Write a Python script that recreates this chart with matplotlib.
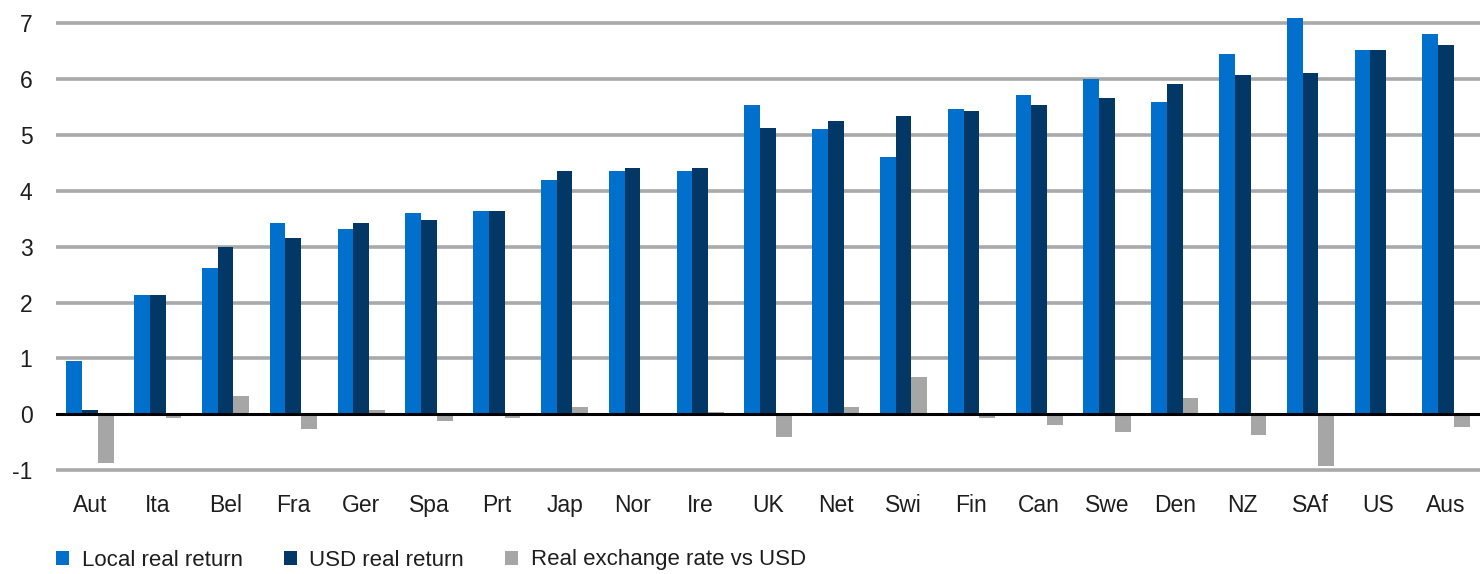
import matplotlib
matplotlib.use("Agg")
import matplotlib.pyplot as plt
import numpy as np

plt.rcParams['font.family'] = ['Liberation Sans', 'DejaVu Sans']

countries = ["Aut", "Ita", "Bel", "Fra", "Ger", "Spa", "Prt", "Jap", "Nor", "Ire",
             "UK", "Net", "Swi", "Fin", "Can", "Swe", "Den", "NZ", "SAf", "US", "Aus"]
local_real = [0.95, 2.13, 2.61, 3.43, 3.31, 3.60, 3.63, 4.19, 4.35, 4.35,
              5.53, 5.10, 4.60, 5.46, 5.71, 6.00, 5.59, 6.44, 7.09, 6.52, 6.80]
usd_real = [0.08, 2.13, 2.99, 3.15, 3.43, 3.48, 3.63, 4.35, 4.41, 4.41,
            5.13, 5.25, 5.33, 5.42, 5.54, 5.66, 5.91, 6.07, 6.11, 6.52, 6.61]
fx_real = [-0.87, -0.06, 0.33, -0.27, 0.08, -0.11, -0.06, 0.13, 0.0, 0.05,
           -0.40, 0.13, 0.66, -0.06, -0.19, -0.32, 0.29, -0.36, -0.93, 0.0, -0.23]
series_names = ["Local real return", "USD real return", "Real exchange rate vs USD"]
y_ticks = [-1, 0, 1, 2, 3, 4, 5, 6, 7]

c_local = "#0070CC"
c_usd = "#033866"
c_fx = "#A6A6A6"
text_c = "#1E1E1E"

fig = plt.figure(figsize=(14.8, 5.74), dpi=100)
W, H = 1480, 574
# axes box in pixel terms: left 56, right 1480, top 0, bottom ~472
ax = fig.add_axes([56 / W, (H - 472) / H, (W - 56) / W, 472 / H])

x = np.arange(len(countries))
w = 0.232
ax.bar(x - w, local_real, w, color=c_local, label=series_names[0], zorder=2)
ax.bar(x, usd_real, w, color=c_usd, label=series_names[1], zorder=2)
ax.bar(x + w, fx_real, w, color=c_fx, label=series_names[2], zorder=2)

ax.set_xlim(-0.5, len(countries) - 0.5)
ax.set_ylim(-1.03, 7.41)
ax.set_yticks(y_ticks)
ax.set_yticklabels([str(v) for v in y_ticks])
ax.set_xticks(x)
ax.set_xticklabels(countries)

for v in y_ticks:
    if v != 0:
        ax.axhline(v, color="#A9A9A9", lw=2.6, zorder=1)
ax.axhline(0, color="black", lw=2.2, zorder=3)

for s in ax.spines.values():
    s.set_visible(False)
ax.tick_params(axis="both", length=0, labelsize=16.5, colors=text_c)
ax.tick_params(axis="y", pad=17)
ax.tick_params(axis="x", pad=16)

leg = fig.legend(loc="center left", bbox_to_anchor=(56 / W, 1 - 560 / H), ncol=3,
                 frameon=False, fontsize=16, handlelength=0.6, handleheight=0.6,
                 handletextpad=0.55, columnspacing=1.85, labelcolor=text_c,
                 borderaxespad=0.0, borderpad=0.0)

fig.savefig("out.png", dpi=100)
